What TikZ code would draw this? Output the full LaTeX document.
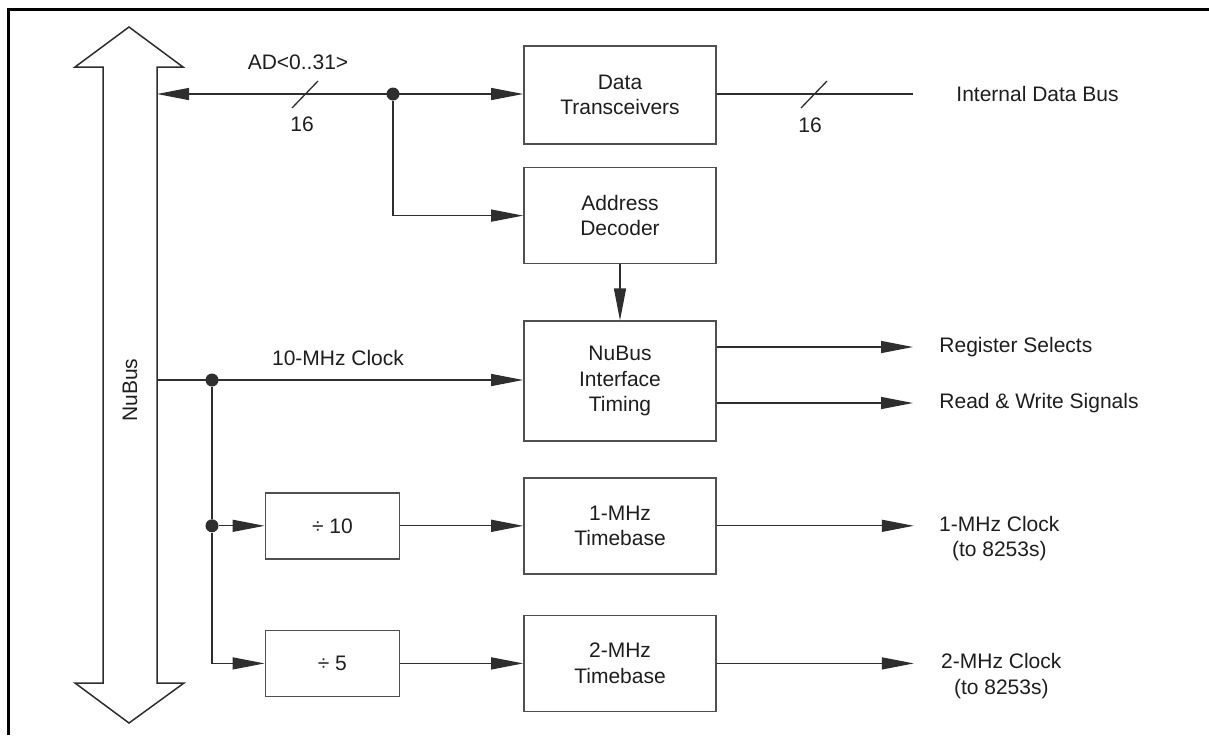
\documentclass[tikz,border=0pt]{standalone}
\usepackage{fontspec}
\setmainfont{Liberation Sans}
\usepackage{xcolor}
\definecolor{wiregray}{HTML}{2E2E2E}
\definecolor{boxgray}{HTML}{505050}
\definecolor{inkgray}{HTML}{1E1E1E}
\usetikzlibrary{arrows.meta,positioning,calc}
\tikzset{
  blk/.style={draw=boxgray, line width=0.8pt, align=center, inner sep=0pt,
              minimum width=96pt},
  divbox/.style={blk, minimum width=67pt, minimum height=33pt},
  lbl/.style={inner sep=0pt, align=center},
  wire/.style={draw=wiregray, line width=0.65pt},
  ar/.style={wire, -{Triangle[length=16pt, width=6pt]}},
  biar/.style={wire, {Triangle[length=16pt, width=6pt]}-{Triangle[length=16pt, width=6pt]}},
  jdot/.style={circle, fill=wiregray, inner sep=0pt, minimum size=6.5pt},
}
\newcommand\buswidth[1]{\draw[wire] ([shift={(-13,14)}]#1) -- ([shift={(13,-13)}]#1);}

\begin{document}
\begin{tikzpicture}[x=0.5pt, y=-0.5pt, font=\fontsize{10.5}{12.7}\selectfont, text=inkgray]
  \useasboundingbox (0,0) rectangle (1209,735);
  % page frame
  \draw[line width=1.5pt] (8.5,735) -- (8.5,9.5) -- (1209,9.5);

  % the bus
  \draw[wire, line width=0.75pt] (103,67) -- (75,67) -- (129,27) -- (183,67) -- (157,67)
    -- (157,683) -- (184,683) -- (129,723) -- (75,683) -- (103,683) -- cycle;
  \node[lbl, rotate=90] (nubus) at (130,390) {NuBus};
  \coordinate (busad) at (157,94);
  \coordinate (busclk) at (157,380);

  % blocks
  \node[blk, minimum height=49pt] (dt) at (620,95) {Data\\Transceivers};
  \node[blk, minimum height=48pt, below=11pt of dt] (ad) {Address\\Decoder};
  \node[blk, minimum height=60pt, below=28pt of ad] (nit) {NuBus\\Interface\\Timing};
  \node[blk, minimum height=48pt, below=17.5pt of nit] (tb1) {1-MHz\\Timebase};
  \node[blk, minimum height=48pt, below=20pt of tb1] (tb2) {2-MHz\\Timebase};
  \node[divbox, left=61.5pt of tb1] (div10) {÷ 10};
  \node[divbox, left=61.5pt of tb2] (div5) {÷ 5};

  % junctions
  \node[jdot] (j1) at (393,94) {};
  \node[jdot] (j2) at (212,380) {};
  \node[jdot] (j3) at (j2 |- div10) {};

  % address/data
  \draw[biar] (busad) -- (busad -| dt.west);
  \draw[ar] (j1) |- (ad);
  \draw[ar] (ad) -- (nit);
  \coordinate (w1) at (305,94);
  \buswidth{w1}
  \node[lbl] (adlbl) at (298,62) {AD<0..31>};
  \node[lbl] (adw) at (302,124) {16};

  \coordinate (idbend) at (913,94);
  \draw[wire] (idbend -| dt.east) -- (idbend);
  \coordinate (w2) at (814,94);
  \buswidth{w2}
  \node[lbl] (idw) at (810,125) {16};
  \node[lbl, right=21.5pt of idbend] (idb) {Internal Data Bus};

  % clocks
  \draw[ar] (busclk) -- (busclk -| nit.west);
  \node[lbl] (clklbl) at (338,358) {10-MHz Clock};
  \draw[wire] (j2) -- (j3);
  \draw[ar] (j3) -- (div10);
  \draw[ar] (j3) |- (div5);
  \draw[ar] (div10) -- (tb1);
  \draw[ar] (div5) -- (tb2);

  % outputs
  \coordinate (rsend) at (913,347);
  \coordinate (rwend) at (913,403);
  \draw[ar] (rsend -| nit.east) -- (rsend);
  \draw[ar] (rwend -| nit.east) -- (rwend);
  \node[lbl, right=13pt of rsend] (rs) {Register Selects};
  \node[lbl, right=13pt of rwend] (rw) {Read \& Write Signals};

  \coordinate[right=98.5pt of tb1] (ck1end);
  \coordinate[right=98.5pt of tb2] (ck2end);
  \draw[ar] (tb1) -- (ck1end);
  \draw[ar] (tb2) -- (ck2end);
  \node[lbl, right=12.5pt of ck1end, yshift=-6.25pt] (ck1) {1-MHz Clock\\(to 8253s)};
  \node[lbl, right=13.5pt of ck2end, yshift=-6.25pt] (ck2) {2-MHz Clock\\(to 8253s)};
\end{tikzpicture}
\end{document}
